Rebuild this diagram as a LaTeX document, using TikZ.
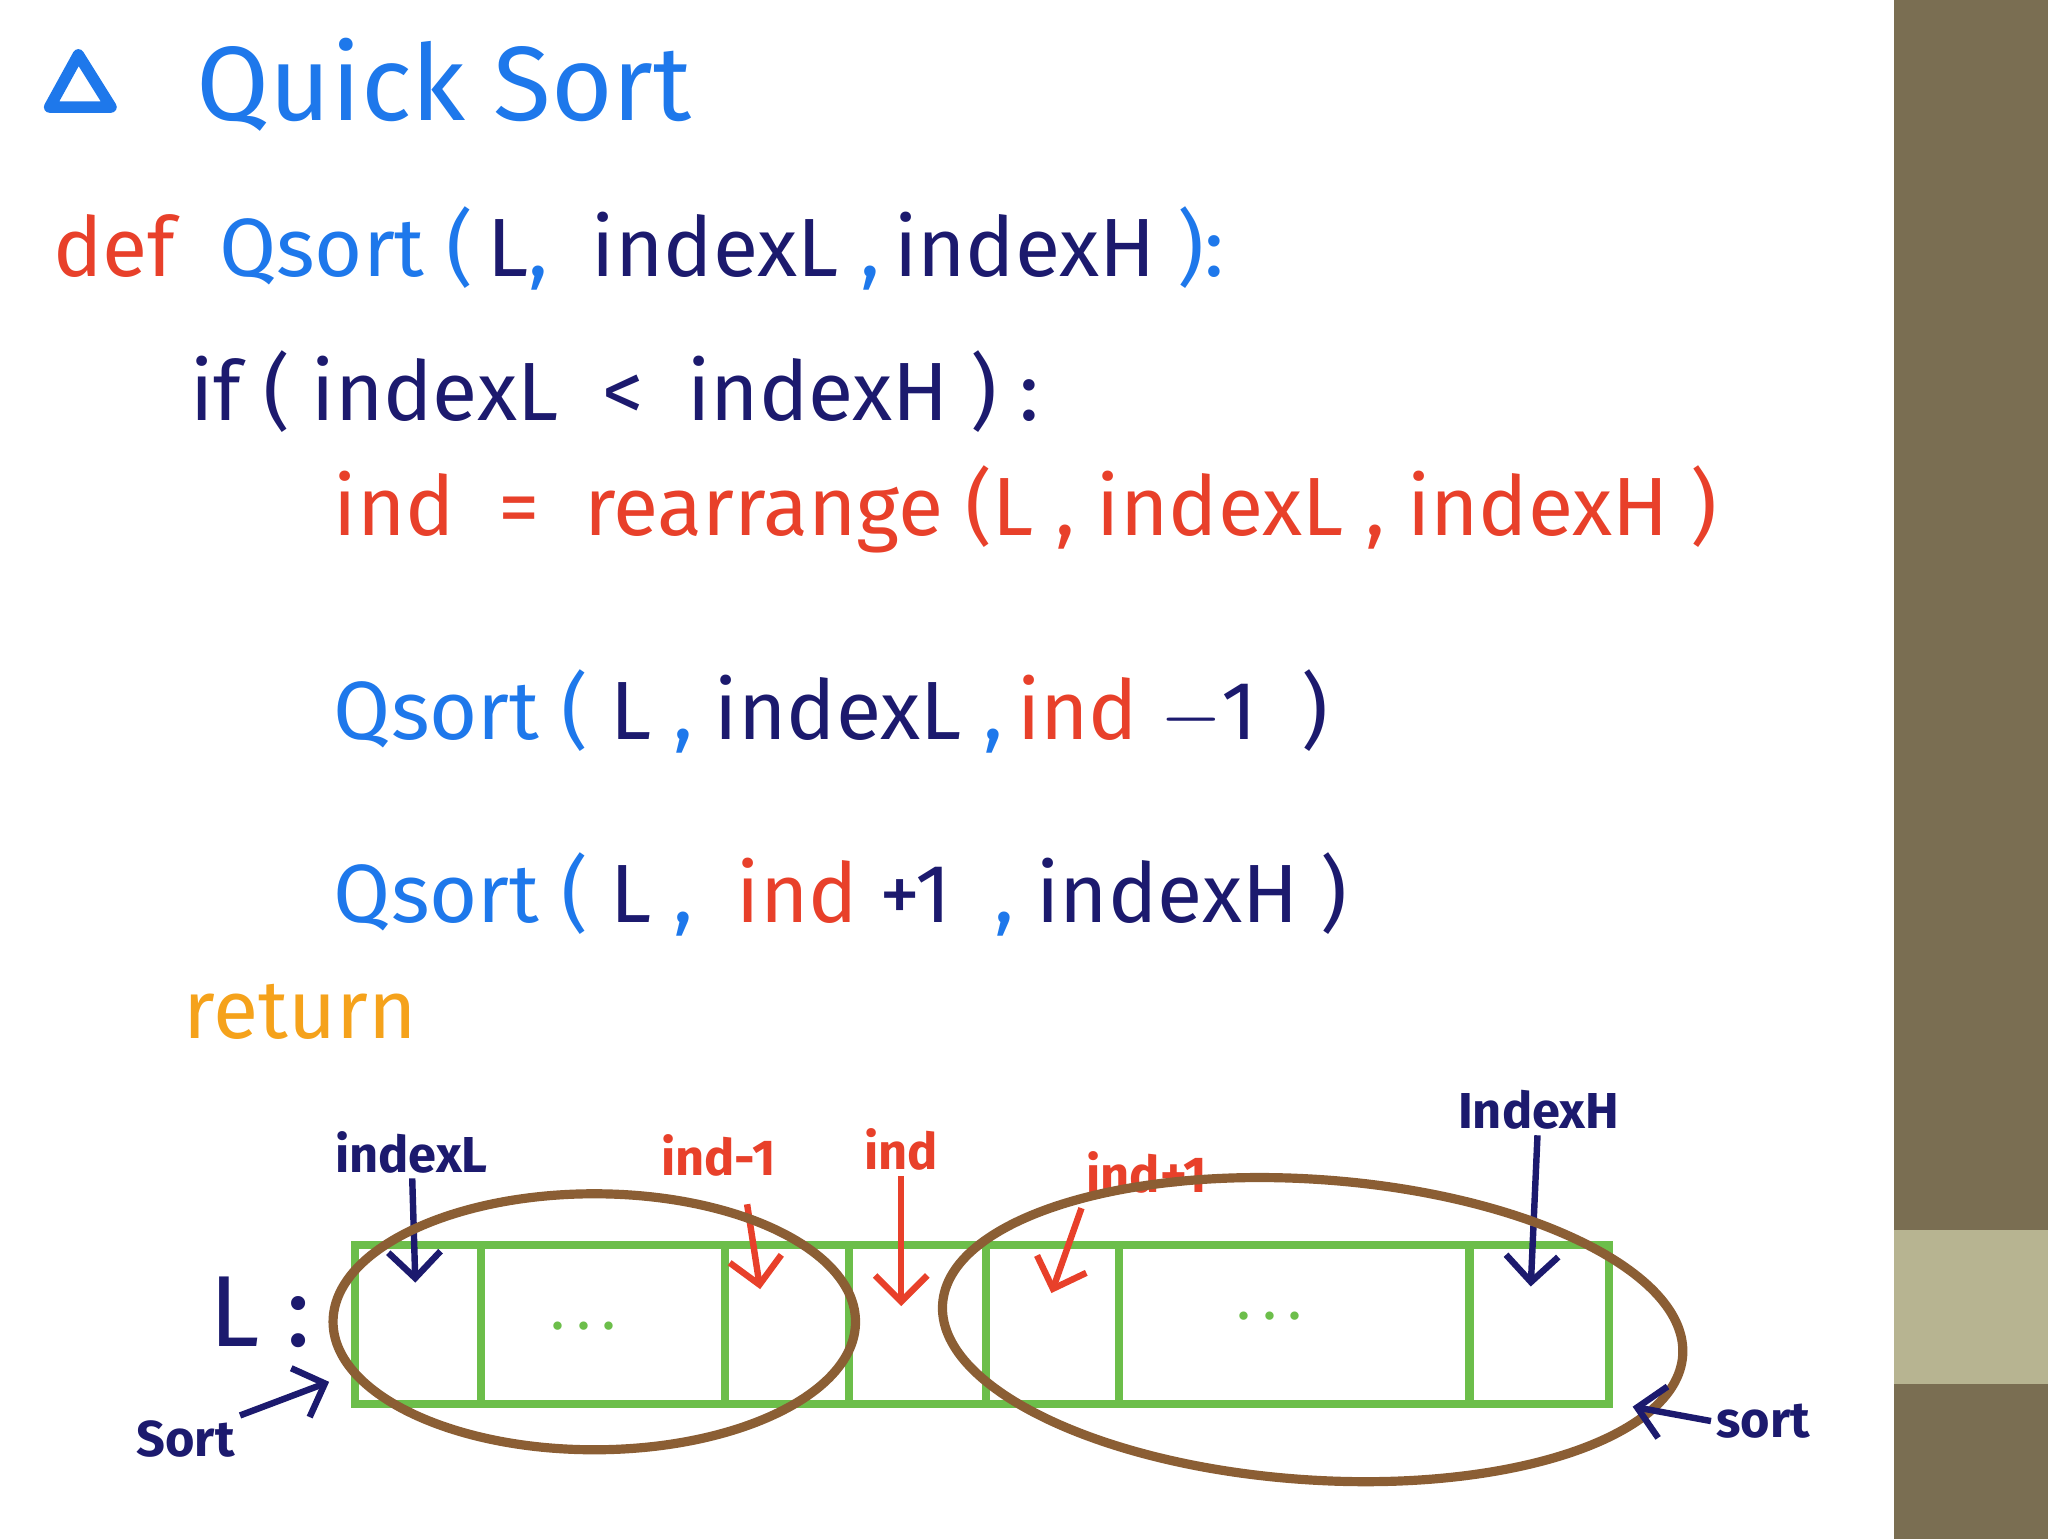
\documentclass[tikz,border=0pt]{standalone}
\usepackage{fontspec}
\setmainfont{Fira Sans}
\usepackage{tikz}
\usetikzlibrary{positioning,arrows.meta}
\definecolor{qblue}{RGB}{30,120,235}
\definecolor{qnavy}{RGB}{28,26,110}
\definecolor{qred}{RGB}{232,64,42}
\definecolor{qorange}{RGB}{245,162,27}
\definecolor{qgreen}{RGB}{108,190,74}
\definecolor{qbrown}{RGB}{139,94,52}
\definecolor{qolive}{RGB}{122,110,82}
\definecolor{qsand}{RGB}{183,180,145}
\tikzstyle{code}=[anchor=west,inner sep=0pt,font=\fontsize{18}{22}\selectfont]
\tikzstyle{tag}=[inner sep=1pt,font=\bfseries\fontsize{11}{13}\selectfont]
\tikzstyle{pointer}=[-{Straight Barb[length=2mm]},line width=1.4pt]
\tikzstyle{cell}=[draw=qgreen,line width=1.8pt]
\tikzstyle{loop}=[draw=qbrown,line width=2pt]
\begin{document}
\begin{tikzpicture}[x=0.1mm,y=-0.1mm]
	\useasboundingbox (0,0) rectangle (1568,1178);
	\fill [qolive] (1450,0) rectangle (1568,1178);
	\fill [qsand] (1450,942) rectangle (1568,1060);

	% title and code
	\draw [qblue,line width=2.5pt,line join=round] (38,82) -- (85,82) -- (60,42) -- cycle;
	\node [code,text=qblue,font=\fontsize{23}{27}\selectfont] (title) at (150,65) {Quick Sort};
	\node [code] (def) at (40,190) {\textcolor{qred}{def}\ \ \textcolor{qblue}{Qsort (}\,\textcolor{qnavy}{L}\textcolor{qblue}{,}\ \ \textcolor{qnavy}{indexL}\ \textcolor{qblue}{,}\,\textcolor{qnavy}{indexH}\ \textcolor{qblue}{):}};
	\node [code,text=qnavy] (if) at (145,300) {if ( indexL \ <\ \ indexH ) :};
	\node [code,text=qred] (ind) at (255,390) {ind \ = \ rearrange (L , indexL , indexH )};
	\node [code] (left) at (255,545) {\textcolor{qblue}{Qsort (}\ \textcolor{qnavy}{L}\ \textcolor{qblue}{,}\ \textcolor{qnavy}{indexL}\ \textcolor{qblue}{,}\,\textcolor{qred}{ind}\ \textcolor{qnavy}{$-$1 \ )}};
	\node [code] (right) at (255,685) {\textcolor{qblue}{Qsort (}\ \textcolor{qnavy}{L}\ \textcolor{qblue}{,}\ \ \textcolor{qred}{ind}\ \textcolor{qnavy}{+1}\ \ \textcolor{qblue}{,}\ \textcolor{qnavy}{indexH )}};
	\node [code,text=qorange] (ret) at (140,775) {return};

	% array
	\draw [cell] (272,953) rectangle (1232,1075);
	\foreach \x in {368,555,650,755,857,1125}
		\draw [cell] (\x,953) -- (\x,1075);
	\node [text=qgreen,font=\bfseries] (dotsL) at (447,1015) {. . .};
	\node [text=qgreen,font=\bfseries] (dotsR) at (972,1008) {. . .};
	\node [code,text=qnavy,font=\fontsize{22}{26}\selectfont] (L) at (160,1005) {L :};

	% pointers
	\node [tag,text=qnavy] (tL) at (315,882) {indexL};
	\node [tag,text=qred] (tm) at (550,885) {ind-1};
	\node [tag,text=qred] (ti) at (690,880) {ind};
	\node [tag,text=qred] (tp) at (878,898) {ind+1};
	\node [tag,text=qnavy] (tH) at (1178,850) {IndexH};
	\coordinate (pL) at (318,982);
	\coordinate (pm) at (582,987);
	\coordinate (pi) at (690,1000);
	\coordinate (pp) at (805,990);
	\coordinate (pH) at (1172,985);
	\draw [pointer,qnavy] (tL) -- (pL);
	\draw [pointer,qred] (572,922) -- (pm);
	\draw [pointer,qred] (ti) -- (pi);
	\draw [pointer,qred] (828,925) -- (pp);
	\draw [pointer,qnavy] (tH) -- (pH);

	% sort groups
	\draw [loop] (455,1012) ellipse [x radius=200, y radius=98];
	\draw [loop,rotate around={-4:(1005,1018)}] (1005,1018) ellipse [x radius=284, y radius=115];
	\node [tag,text=qnavy] (s1) at (142,1102) {Sort};
	\node [tag,text=qnavy] (s2) at (1350,1088) {sort};
	\coordinate (e1) at (252,1058);
	\coordinate (e2) at (1250,1077);
	\draw [pointer,qnavy] (s1.north east) -- (e1);
	\draw [pointer,qnavy] (s2.west) -- (e2);
\end{tikzpicture}
\end{document}
